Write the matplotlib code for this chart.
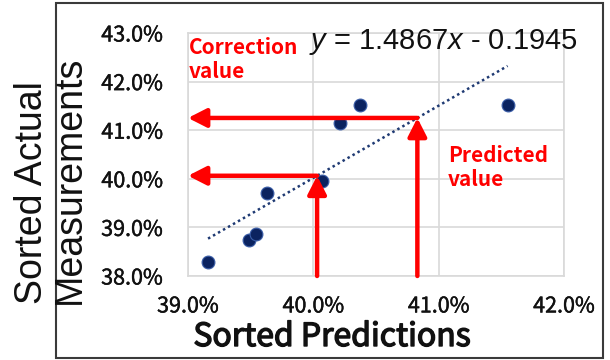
import matplotlib
matplotlib.use("Agg")
import matplotlib.pyplot as plt
import matplotlib.patheffects as pe
from matplotlib.patches import Rectangle
from matplotlib.ticker import PercentFormatter
import numpy as np

plt.rcParams['mathtext.fontset'] = 'custom'
plt.rcParams['mathtext.it'] = 'Liberation Sans:italic'
plt.rcParams['mathtext.rm'] = 'Liberation Sans'

# ---- data ----
pred = [0.3916, 0.3949, 0.3954, 0.3963, 0.4007, 0.4021, 0.4037, 0.4155]
actual = [0.3828, 0.3874, 0.3886, 0.3970, 0.3995, 0.4115, 0.4152, 0.4152]
slope = 1.4867
intercept = -0.1945
example_preds = [0.4003, 0.4083]
x_ticks = [0.39, 0.40, 0.41, 0.42]
y_ticks = [0.38, 0.39, 0.40, 0.41, 0.42, 0.43]
x_label = "Sorted Predictions"
y_label_lines = ["Sorted Actual", "Measurements"]
eq_text = r"$y$ = 1.4867$x$ - 0.1945"

W, H = 610, 360
fig = plt.figure(figsize=(6.1, 3.6), dpi=100)
ax = fig.add_axes([188 / W, 1 - 276 / H, (564 - 188) / W, (276 - 33) / H])

ax.set_xlim(x_ticks[0], x_ticks[-1])
ax.set_ylim(y_ticks[0], y_ticks[-1])
ax.set_xticks(x_ticks)
ax.set_yticks(y_ticks)
ax.xaxis.set_major_formatter(PercentFormatter(1.0, decimals=1))
ax.yaxis.set_major_formatter(PercentFormatter(1.0, decimals=1))
for lab in ax.get_xticklabels() + ax.get_yticklabels():
    lab.set_fontfamily(['Noto Sans CJK JP', 'DejaVu Sans'])
    lab.set_fontsize(15.5)
    lab.set_color('#111111')
    lab.set_path_effects([pe.withStroke(linewidth=0.3, foreground='#111111')])
ax.tick_params(axis='x', length=0, pad=14)
ax.tick_params(axis='y', length=0, pad=18)
ax.grid(True, color='#d9d9d9', lw=1.2)
ax.set_axisbelow(True)
for s in ax.spines.values():
    s.set_color('#d9d9d9')
    s.set_linewidth(1.2)

# trendline
xs = np.array([min(pred), max(pred)])
ax.plot(xs, slope * xs + intercept, linestyle=(0, (1, 1.3)), lw=1.8,
        color='#1f3a73', zorder=3)

# points
ax.scatter(pred, actual, s=85, color='#0b2360', edgecolor='#3b5ea8',
           linewidth=0.8, zorder=4)

# arrows
ap = dict(arrowstyle='-|>,head_length=0.55,head_width=0.28', lw=3.2,
          color='#ff0000', shrinkA=0, shrinkB=0, mutation_scale=20)
for p in example_preds:
    c = slope * p + intercept
    ax.annotate('', xy=(p, c), xytext=(p, y_ticks[0]), arrowprops=ap,
                annotation_clip=False, zorder=5)
    ax.annotate('', xy=(x_ticks[0], c), xytext=(p, c), arrowprops=ap,
                annotation_clip=False, zorder=5)

red_font = dict(family=['Noto Sans CJK JP', 'DejaVu Sans'], size=15,
                color='#ff0000', fontweight='bold')
fig.text(189 / W, 1 - 78 / H, "Correction\nvalue", va='baseline', ha='left',
         linespacing=1.15, **red_font)
fig.text(448 / W, 1 - 186 / H, "Predicted\nvalue", va='baseline', ha='left',
         linespacing=1.15, **red_font)

# equation
fig.text(578 / W, 1 - 49 / H, eq_text, ha='right', va='baseline',
         fontsize=21, family='Liberation Sans', color='#111111')

# axis labels
fig.text(332 / W, 1 - 346 / H, x_label, ha='center', va='baseline',
         fontsize=23, family=['Noto Sans CJK JP', 'DejaVu Sans'],
         color='#111111',
         path_effects=[pe.withStroke(linewidth=1.0, foreground='#111111')])
fig.text(42 / W, 1 - 304 / H, y_label_lines[0], rotation=90, ha='left',
         va='baseline', rotation_mode='anchor', fontsize=27,
         family='Liberation Sans', color='#111111')
fig.text(80 / W, 1 - 304 / H, y_label_lines[1], rotation=90, ha='left',
         va='baseline', rotation_mode='anchor', fontsize=27,
         family='Liberation Sans', color='#111111')

# outer frame
fig.patches.append(Rectangle((56 / W, 1 - 358 / H), (603 - 56) / W, (358 - 3) / H,
                             transform=fig.transFigure, fill=False,
                             edgecolor='#3a3a3a', lw=1.5, zorder=0))

fig.savefig('out.png', dpi=100)
